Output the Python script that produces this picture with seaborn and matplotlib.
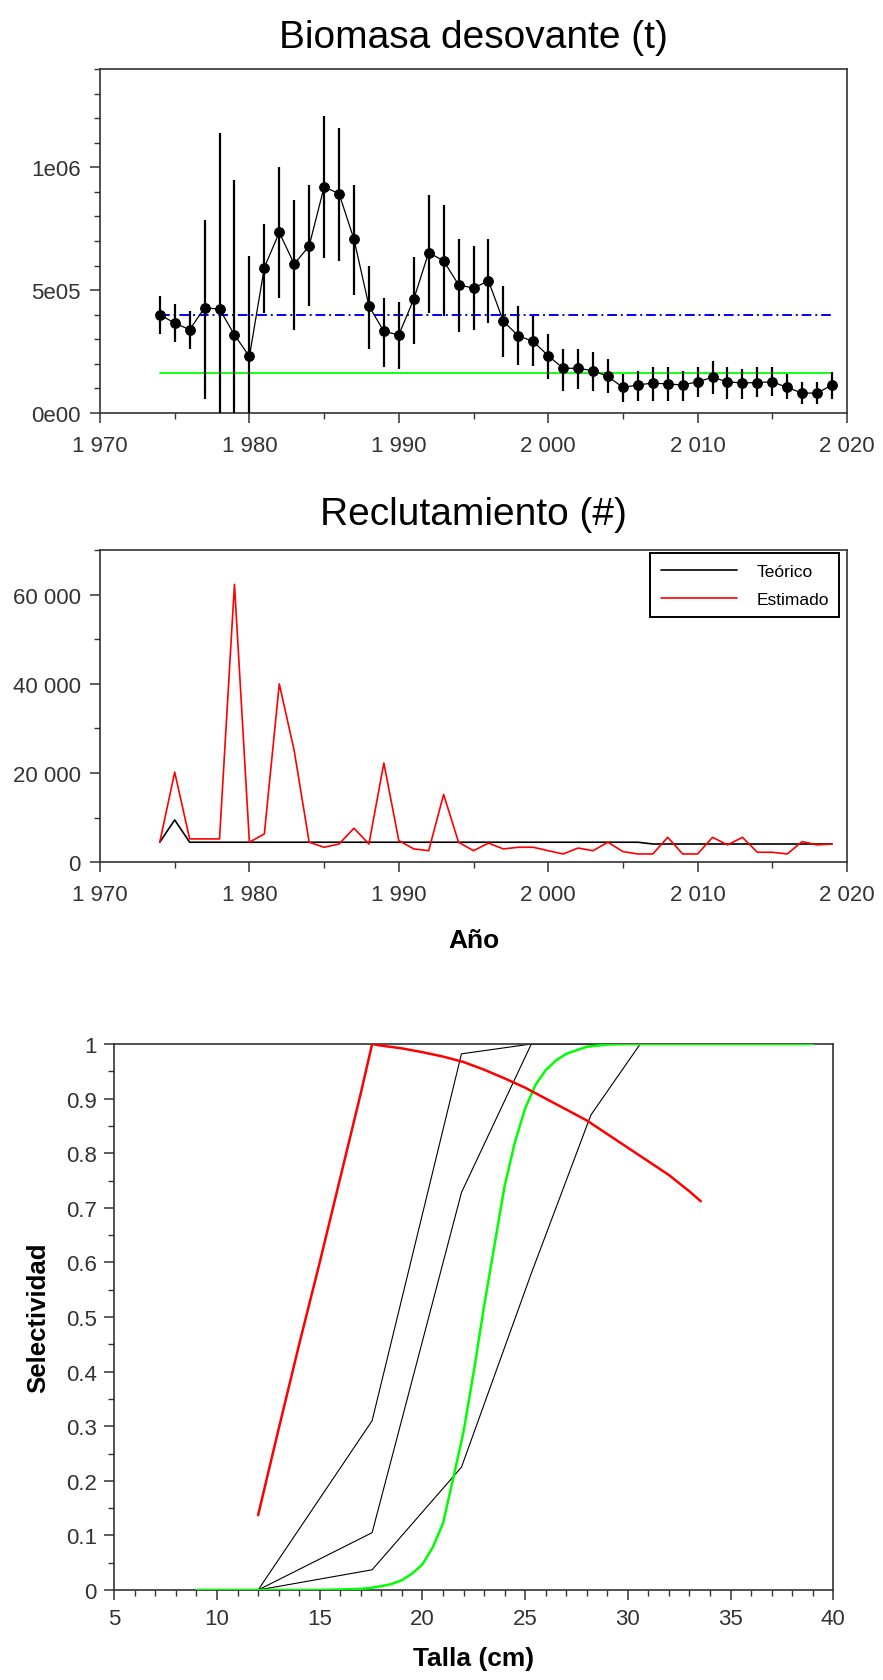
import numpy as np
import pandas as pd
import matplotlib
matplotlib.use("Agg")
import matplotlib.pyplot as plt
import seaborn as sns
from matplotlib.ticker import FixedLocator, MultipleLocator

# ---------------- data ----------------
years = list(range(1974, 2020))
ssb = [4.00e5, 3.66e5, 3.39e5, 4.28e5, 4.23e5, 3.18e5, 2.30e5, 5.92e5, 7.35e5, 6.06e5,
       6.80e5, 9.20e5, 8.93e5, 7.07e5, 4.36e5, 3.32e5, 3.18e5, 4.63e5, 6.53e5, 6.19e5,
       5.22e5, 5.08e5, 5.38e5, 3.73e5, 3.14e5, 2.91e5, 2.33e5, 1.82e5, 1.82e5, 1.72e5,
       1.49e5, 1.04e5, 1.14e5, 1.22e5, 1.18e5, 1.14e5, 1.27e5, 1.45e5, 1.27e5, 1.22e5,
       1.24e5, 1.27e5, 1.04e5, 0.81e5, 0.81e5, 1.14e5]
ssb_lo = [3.21e5, 2.87e5, 2.60e5, 0.57e5, 0.0, 0.0, 0.0, 4.05e5, 4.66e5, 3.39e5,
          4.36e5, 6.29e5, 6.17e5, 4.80e5, 2.60e5, 1.86e5, 1.79e5, 2.80e5, 4.09e5, 3.93e5,
          3.30e5, 3.39e5, 3.65e5, 2.29e5, 1.95e5, 1.90e5, 1.38e5, 0.91e5, 0.98e5, 0.91e5,
          0.80e5, 0.43e5, 0.50e5, 0.50e5, 0.50e5, 0.50e5, 0.64e5, 0.77e5, 0.57e5, 0.57e5,
          0.64e5, 0.70e5, 0.57e5, 0.37e5, 0.37e5, 0.57e5]
ssb_hi = [4.77e5, 4.43e5, 4.16e5, 7.85e5, 11.4e5, 9.48e5, 6.39e5, 7.71e5, 10.03e5, 8.67e5,
          9.28e5, 12.09e5, 11.61e5, 9.28e5, 5.99e5, 4.70e5, 4.50e5, 6.35e5, 8.87e5, 8.47e5,
          7.07e5, 6.80e5, 7.07e5, 5.18e5, 4.36e5, 3.96e5, 3.21e5, 2.60e5, 2.60e5, 2.47e5,
          2.20e5, 1.59e5, 1.70e5, 1.86e5, 1.86e5, 1.70e5, 1.86e5, 2.13e5, 1.86e5, 1.79e5,
          1.86e5, 1.86e5, 1.59e5, 1.27e5, 1.27e5, 1.66e5]
b0_level = 4.0e5
blim_level = 1.61e5

rec_est = [4500, 20200, 5240, 5240, 5240, 62300, 4500, 6360, 40000, 25000,
           4500, 3370, 4100, 7640, 4100, 22250, 4870, 3000, 2600, 15200,
           4500, 2600, 4300, 3000, 3370, 3370, 2600, 1870, 3200, 2600,
           4500, 2400, 1870, 1870, 5600, 1870, 1870, 5600, 3900, 5600,
           2250, 2250, 1870, 4650, 3900, 4100]
rec_teo = [4500, 9500] + [4500] * 31 + [4100] * 13

green_len = [9, 10, 11, 12, 13, 14, 15, 16, 17, 17.5, 18, 18.5, 19, 19.5, 20, 20.5, 21, 21.5,
             22, 22.5, 23, 23.5, 24, 24.5, 25, 25.5, 26, 26.5, 27, 28, 29, 30, 31, 32, 33,
             34, 35, 36, 37, 38, 39]
green_sel = [0, 0, 0, 0, 0, 0, 0, 0.001, 0.002, 0.004, 0.007, 0.011, 0.018, 0.03, 0.047,
             0.078, 0.122, 0.205, 0.29, 0.40, 0.52, 0.63, 0.74, 0.82, 0.882, 0.925, 0.952,
             0.97, 0.982, 0.995, 0.999, 1, 1, 1, 1, 1, 1, 1, 1, 1, 1]
red_len = [12, 13, 14, 15, 16, 17, 17.55, 18, 19, 20, 21, 22, 23, 24, 25, 26, 27, 28, 29,
           30, 31, 32, 33, 33.55]
red_sel = [0.137, 0.295, 0.45, 0.60, 0.755, 0.91, 1.0, 0.997, 0.992, 0.985, 0.977, 0.967,
           0.953, 0.937, 0.92, 0.90, 0.88, 0.86, 0.835, 0.81, 0.785, 0.76, 0.73, 0.712]
knot_len = [12.0, 17.55, 21.9, 25.3, 28.2, 30.6]
sel_a = [0, 0.31, 0.982, 1.0, 1.0, 1.0]
sel_b = [0, 0.105, 0.728, 1.0, 1.0, 1.0]
sel_c = [0, 0.037, 0.225, 0.58, 0.87, 1.0]

year_ticks = [1970, 1980, 1990, 2000, 2010, 2020]
year_labels = ["1 970", "1 980", "1 990", "2 000", "2 010", "2 020"]
ssb_ticks = [0, 5e5, 1e6]
ssb_labels = ["0e00", "5e05", "1e06"]
rec_ticks = [0, 20000, 40000, 60000]
rec_labels = ["0", "20 000", "40 000", "60 000"]
sel_ticks = [0, 0.1, 0.2, 0.3, 0.4, 0.5, 0.6, 0.7, 0.8, 0.9, 1.0]
sel_labels = ["0", "0.1", "0.2", "0.3", "0.4", "0.5", "0.6", "0.7", "0.8", "0.9", "1"]
len_ticks = [5, 10, 15, 20, 25, 30, 35, 40]
len_labels = ["5", "10", "15", "20", "25", "30", "35", "40"]

# ---------------- style ----------------
sns.set_theme(style="ticks")
plt.rcParams["font.family"] = ["Liberation Sans", "DejaVu Sans"]
plt.rcParams["axes.edgecolor"] = "#333333"
plt.rcParams["axes.linewidth"] = 1.2

W, H = 883, 1681
fig = plt.figure(figsize=(W / 100, H / 100), dpi=100)
fig.patch.set_facecolor("white")


def ax_at(l, t, r, b):
    return fig.add_axes([l / W, 1 - b / H, (r - l) / W, (b - t) / H])


def style_axes(ax, lab_size):
    ax.set_facecolor("white")
    for s in ax.spines.values():
        s.set_visible(True)
        s.set_color("#333333")
        s.set_linewidth(1.2)
    ax.tick_params(which="major", direction="out", length=7, width=1.1, color="#333333",
                   labelsize=lab_size, labelcolor="#333333", pad=4, top=False, right=False)
    ax.tick_params(which="minor", direction="out", length=4, width=1.0, color="#333333",
                   top=False, right=False)


# ---------------- panel 1: Biomasa ----------------
ax1 = ax_at(100, 70, 847, 414)
style_axes(ax1, 16)
df1 = pd.DataFrame({"year": years, "ssb": ssb, "lo": ssb_lo, "hi": ssb_hi})
ax1.vlines(df1["year"], df1["lo"], df1["hi"], color="black", lw=1.6, zorder=3)
sns.lineplot(data=df1, x="year", y="ssb", ax=ax1, color="black", lw=0.9,
             marker="o", markersize=7, markeredgecolor="black", markerfacecolor="black",
             estimator=None, sort=False, legend=False, zorder=4)
ref_years = [years[0], years[-1]]
sns.lineplot(x=ref_years, y=[b0_level] * 2, ax=ax1, color=(0, 0, 1), lw=1.4,
             estimator=None, legend=False, zorder=2)
ax1.lines[-1].set_dashes([5, 2, 1, 2])
sns.lineplot(x=ref_years, y=[blim_level] * 2, ax=ax1, color=(0, 1, 0), lw=1.3,
             estimator=None, legend=False, zorder=2)
ax1.set_xlim(1970, 2020)
ax1.set_ylim(0, 1.4e6)
ax1.xaxis.set_major_locator(FixedLocator(year_ticks))
ax1.set_xticklabels(year_labels)
ax1.xaxis.set_minor_locator(MultipleLocator(5))
ax1.yaxis.set_major_locator(FixedLocator(ssb_ticks))
ax1.set_yticklabels(ssb_labels)
ax1.yaxis.set_minor_locator(MultipleLocator(1e5))
ax1.tick_params(axis="y", which="major", pad=7)
ax1.tick_params(axis="x", which="major", pad=8.5)
ax1.set_xlabel("")
ax1.set_ylabel("")
ax1.set_title("Biomasa desovante (t)", fontsize=28, pad=16, color="black")

# ---------------- panel 2: Reclutamiento ----------------
ax2 = ax_at(100, 551, 847, 863.3)
style_axes(ax2, 16)
df2 = pd.DataFrame({"year": years * 2, "rec": rec_teo + rec_est,
                    "serie": ["Teórico"] * len(years) + ["Estimado"] * len(years)})
sns.lineplot(data=df2, x="year", y="rec", hue="serie", palette={"Teórico": "black", "Estimado": (1, 0, 0)},
             ax=ax2, lw=1.2, estimator=None, sort=False)
ax2.set_xlim(1970, 2020)
ax2.set_ylim(0, 70000)
ax2.xaxis.set_major_locator(FixedLocator(year_ticks))
ax2.set_xticklabels(year_labels)
ax2.xaxis.set_minor_locator(MultipleLocator(5))
ax2.yaxis.set_major_locator(FixedLocator(rec_ticks))
ax2.set_yticklabels(rec_labels)
ax2.yaxis.set_minor_locator(MultipleLocator(10000))
ax2.tick_params(axis="y", which="major", pad=7)
ax2.tick_params(axis="x", which="major", pad=8.5)
ax2.set_ylabel("")
ax2.set_xlabel("Año", fontsize=19, fontweight="bold", labelpad=16.5, color="black")
ax2.set_title("Reclutamiento (#)", fontsize=28, pad=18.5, color="black")
leg = ax2.legend(loc="upper right", bbox_to_anchor=(0.9897, 0.9894), borderaxespad=0,
                 fontsize=12.5, handlelength=4.4, handletextpad=1.1, labelspacing=0.75,
                 borderpad=0.6, fancybox=False, framealpha=1, edgecolor="black", title=None)
leg.get_frame().set_linewidth(1.4)
for t in leg.get_texts():
    t.set_color("black")

# ---------------- panel 3: Selectividad ----------------
ax3 = ax_at(114.3, 1045, 833.3, 1591)
style_axes(ax3, 16)
for sel in (sel_a, sel_b, sel_c):
    sns.lineplot(x=knot_len, y=sel, ax=ax3, color="black", lw=0.8, estimator=None,
                 sort=False, legend=False)
sns.lineplot(x=green_len, y=green_sel, ax=ax3, color=(0, 1, 0), lw=1.8, estimator=None,
             sort=False, legend=False, zorder=3)
sns.lineplot(x=red_len, y=red_sel, ax=ax3, color=(1, 0, 0), lw=1.8, estimator=None,
             sort=False, legend=False, zorder=3)
ax3.set_xlim(5, 40)
ax3.set_ylim(0, 1)
ax3.xaxis.set_major_locator(FixedLocator(len_ticks))
ax3.set_xticklabels(len_labels)
ax3.xaxis.set_minor_locator(MultipleLocator(1))
ax3.yaxis.set_major_locator(FixedLocator(sel_ticks))
ax3.set_yticklabels(sel_labels)
ax3.yaxis.set_minor_locator(MultipleLocator(0.05))
ax3.tick_params(axis="y", which="major", pad=5.5)
ax3.tick_params(axis="x", which="major", pad=6)
ax3.set_xlabel("Talla (cm)", fontsize=19, fontweight="bold", labelpad=12, color="black")
ax3.set_ylabel("Selectividad", fontsize=18.5, fontweight="bold", labelpad=11, color="black")

fig.savefig("out.png", dpi=100, facecolor="white")
